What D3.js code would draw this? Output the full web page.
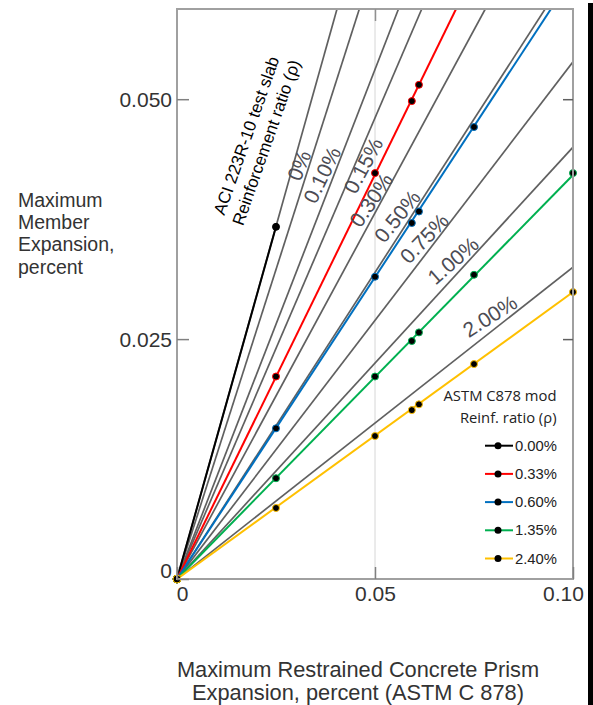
<!DOCTYPE html>
<html>
<head>
<meta charset="utf-8">
<script src="https://cdn.jsdelivr.net/npm/d3@7"></script>
<style>
	body { margin: 0; background: #fff; }
	svg { display: block; font-family: "Liberation Sans", Arial, sans-serif; }
</style>
</head>
<body>
<div id="chart"></div>
<script>
// ASTM C878 mod series (reinforcement ratio)
const astmNames = ["0.00%", "0.33%", "0.60%", "1.35%", "2.40%"];
const astmColors = ["#000000", "#ff0000", "#0070c0", "#00b050", "#ffc000"];
const astmX = [
	[0, 0.025],
	[0, 0.025, 0.050, 0.0593, 0.0611],
	[0, 0.025, 0.050, 0.0593, 0.0611, 0.075],
	[0, 0.025, 0.050, 0.0593, 0.0611, 0.075, 0.100],
	[0, 0.025, 0.050, 0.0593, 0.0611, 0.075, 0.100]
];
const astmY = [
	[0, 0.0367],
	[0, 0.0211, 0.0423, 0.0498, 0.0515],
	[0, 0.0157, 0.0315, 0.0371, 0.0383, 0.0471],
	[0, 0.0105, 0.0211, 0.0248, 0.0257, 0.0317, 0.0423],
	[0, 0.0074, 0.0149, 0.0176, 0.0182, 0.0224, 0.0299]
];
// fitted slope of each ASTM line (member / prism expansion)
const astmSlope = [1.468, 0.843, 0.629, 0.421, 0.299];

// ACI 223R-10 test slab lines (slopes)
const aciSlope = [1.47, 1.29, 1.062, 0.961, 0.763, 0.639, 0.539, 0.450, 0.325];
const aciLabels = ["0%", "0.10%", "0.15%", "0.30%", "0.50%", "0.75%", "1.00%", "2.00%"];
const aciLabelLine = [1, 2, 3, 4, 5, 6, 7, 8];
const aciLabelX = [0.0308, 0.0366, 0.0470, 0.0490, 0.0556, 0.0624, 0.0697, 0.0790];
const aciLabelY = [0.0431, 0.0421, 0.0431, 0.0395, 0.0378, 0.0355, 0.0332, 0.0274];

const xTicks = [0, 0.05, 0.10];
const xTickLabels = ["0", "0.05", "0.10"];
const yTicks = [0, 0.025, 0.050];
const yTickLabels = ["0", "0.025", "0.050"];

const width = 593, height = 705;
const margin = {top: 9, right: 20, bottom: 126, left: 177};

const svg = d3.select("#chart").append("svg")
	.attr("width", width)
	.attr("height", height);

const x = d3.scaleLinear().domain([0, 0.1]).range([margin.left, width - margin.right]);
const y = d3.scaleLinear().domain([0, 0.0594]).range([height - margin.bottom, margin.top]);

svg.append("clipPath").attr("id", "plot-clip")
	.append("rect")
	.attr("x", x(0)).attr("y", y(0.0594))
	.attr("width", x(0.1) - x(0)).attr("height", y(0) - y(0.0594));

// gridline at 0.05
svg.append("line")
	.attr("x1", x(0.05)).attr("x2", x(0.05))
	.attr("y1", y(0)).attr("y2", y(0.0594))
	.attr("stroke", "#d6d6d6").attr("stroke-width", 1);

const plot = svg.append("g").attr("clip-path", "url(#plot-clip)");

// end of a ray from origin at the frame
function rayEnd(slope) {
	const xe = Math.min(0.1, 0.0594 / slope);
	return [xe, xe * slope];
}

// ACI grey lines
plot.append("g")
	.selectAll("line")
	.data(aciSlope)
	.join("line")
	.attr("x1", x(0)).attr("y1", y(0))
	.attr("x2", d => x(rayEnd(d)[0]))
	.attr("y2", d => y(rayEnd(d)[1]))
	.attr("stroke", "#606060")
	.attr("stroke-width", 1.7);

// ASTM coloured lines (black one only up to its last point)
plot.append("g")
	.selectAll("line")
	.data(astmSlope)
	.join("line")
	.attr("x1", x(0)).attr("y1", y(0))
	.attr("x2", (d, i) => i === 0 ? x(astmX[0][1]) : x(rayEnd(d)[0]))
	.attr("y2", (d, i) => i === 0 ? y(astmY[0][1]) : y(rayEnd(d)[1]))
	.attr("stroke", (d, i) => astmColors[i])
	.attr("stroke-width", 2);

// points
astmX.forEach((xs, i) => {
	svg.append("g")
		.selectAll("circle")
		.data(xs)
		.join("circle")
		.attr("cx", d => x(d))
		.attr("cy", (d, j) => y(astmY[i][j]))
		.attr("r", (d, j) => j === 0 ? 4 : 3.5)
		.attr("fill", "#000")
		.attr("stroke", astmColors[i])
		.attr("stroke-width", 1);
});

// ACI labels along lines
const pxSlope = s => (y(0) - y(s * 0.1)) / (x(0.1) - x(0));
svg.append("g")
	.selectAll("text")
	.data(aciLabels)
	.join("text")
	.attr("transform", (d, i) => {
		const ang = Math.atan(pxSlope(aciSlope[aciLabelLine[i]]) / 1.25) * 180 / Math.PI;
		return `translate(${x(aciLabelX[i])},${y(aciLabelY[i])}) rotate(${-ang})`;
	})
	.attr("text-anchor", "middle")
	.attr("dominant-baseline", "central")
	.attr("font-size", 21)
	.attr("fill", "#4c4c54")
	.text(d => d);

// ACI annotation title
const aciAng = Math.atan(pxSlope(aciSlope[0]) / 1.25) * 180 / Math.PI;
const aciTitle = svg.append("g")
	.attr("transform", `translate(${x(0.0176)},${y(0.0462)}) rotate(${-aciAng})`)
	.attr("font-size", 17)
	.attr("text-anchor", "middle")
	.attr("dominant-baseline", "central");
aciTitle.append("text").attr("y", 0).text("ACI 223R-10 test slab");
aciTitle.append("text").attr("y", 21).text("Reinforcement ratio (\u03c1)");

// frame
svg.append("rect")
	.attr("x", x(0)).attr("y", y(0.0594))
	.attr("width", x(0.1) - x(0)).attr("height", y(0) - y(0.0594))
	.attr("fill", "none")
	.attr("stroke", "#a0a0a0")
	.attr("stroke-width", 2);

// axes with inward ticks
const yAxis = svg.append("g")
	.attr("transform", `translate(${x(0)},0)`)
	.call(d3.axisLeft(y).tickValues(yTicks).tickFormat((d, i) => yTickLabels[i])
		.tickSizeInner(-12).tickSizeOuter(0).tickPadding(5));
yAxis.select(".domain").remove();
yAxis.selectAll("line").attr("stroke", "#808080").attr("stroke-width", 1.5);
yAxis.selectAll("text")
	.attr("font-size", 21)
	.attr("font-family", "Liberation Sans, Arial, sans-serif")
	.attr("fill", "#333")
	.attr("dy", (d, i) => i === 0 ? "-0.05em" : "0.36em");

const xAxis = svg.append("g")
	.attr("transform", `translate(0,${y(0)})`)
	.call(d3.axisBottom(x).tickValues(xTicks).tickFormat((d, i) => xTickLabels[i])
		.tickSizeInner(-12).tickSizeOuter(0).tickPadding(7));
xAxis.select(".domain").remove();
xAxis.selectAll("line").attr("stroke", "#808080").attr("stroke-width", 1.5);
xAxis.selectAll("text")
	.attr("font-size", 21)
	.attr("font-family", "Liberation Sans, Arial, sans-serif")
	.attr("fill", "#333")
	.attr("dx", (d, i) => i === 0 ? 5 : i === 2 ? -10 : 0);

const rAxis = svg.append("g")
	.attr("transform", `translate(${x(0.1)},0)`)
	.call(d3.axisRight(y).tickValues(yTicks.slice(1)).tickFormat("").tickSizeInner(-10).tickSizeOuter(0));
rAxis.select(".domain").remove();
rAxis.selectAll("line").attr("stroke", "#606060").attr("stroke-width", 1.5);

const tAxis = svg.append("g")
	.attr("transform", `translate(0,${y(0.0594)})`)
	.call(d3.axisTop(x).tickValues([0.05]).tickFormat("").tickSizeInner(-12).tickSizeOuter(0));
tAxis.select(".domain").remove();
tAxis.selectAll("line").attr("stroke", "#909090").attr("stroke-width", 1.5);

// axis titles
const yTitle = svg.append("text")
	.attr("x", 18).attr("y", 207)
	.attr("font-size", 19.5)
	.attr("fill", "#333");
["Maximum", "Member", "Expansion,", "percent"].forEach((t, i) => {
	yTitle.append("tspan").attr("x", 18).attr("dy", i === 0 ? 0 : 22.2).text(t);
});

const xTitle = svg.append("text")
	.attr("x", 358).attr("y", 677)
	.attr("text-anchor", "middle")
	.attr("font-size", 21.8)
	.attr("fill", "#333");
["Maximum Restrained Concrete Prism", "Expansion, percent (ASTM C 878)"].forEach((t, i) => {
	xTitle.append("tspan").attr("x", 358).attr("dy", i === 0 ? 0 : 23.3).text(t);
});

// legend
const legend = svg.append("g").attr("font-family", "'Open Sans', sans-serif");
legend.append("text")
	.attr("x", 556.5).attr("y", 401)
	.attr("text-anchor", "end").attr("font-size", 14.8).attr("fill", "#222")
	.text("ASTM C878 mod");
legend.append("text")
	.attr("x", 556.5).attr("y", 423)
	.attr("text-anchor", "end").attr("font-size", 14.8).attr("fill", "#222")
	.text("Reinf. ratio (\u03c1)");

const item = legend.selectAll("g.item")
	.data(astmNames)
	.join("g")
	.attr("class", "item")
	.attr("transform", (d, i) => `translate(0,${445.7 + i * 28.2})`);
item.append("line")
	.attr("x1", 485).attr("x2", 513)
	.attr("stroke", (d, i) => astmColors[i])
	.attr("stroke-width", 2);
item.append("circle")
	.attr("cx", 498).attr("r", 3.5)
	.attr("fill", "#000");
item.append("text")
	.attr("x", 515)
	.attr("dominant-baseline", "central")
	.attr("font-family", "Liberation Sans, Arial, sans-serif")
	.attr("font-size", 14.8)
	.attr("fill", "#222")
	.text(d => d);

// black bar at right edge
svg.append("rect")
	.attr("x", 588).attr("y", 3)
	.attr("width", 5).attr("height", height - 3)
	.attr("fill", "#000");
</script>
</body>
</html>
